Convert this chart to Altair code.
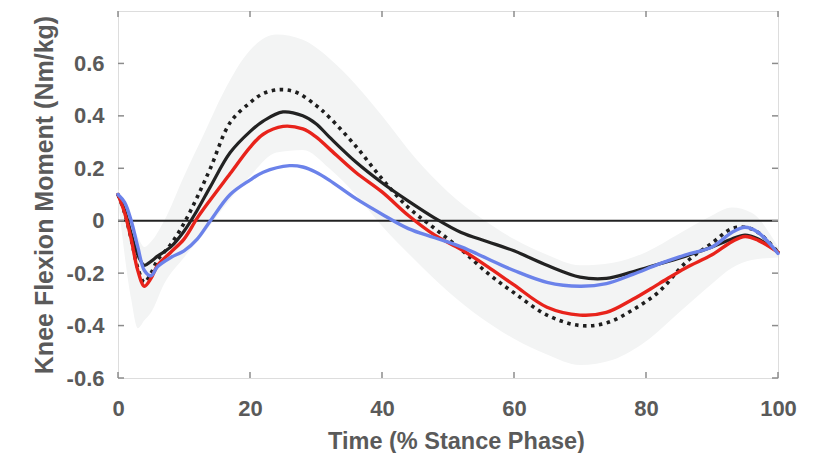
import altair as alt
import pandas as pd

# ---- data ----
x_black = [0, 1, 2, 3, 4, 5, 6, 8, 10, 12, 14, 17, 20, 22, 25, 28, 30, 32, 36, 40, 44, 48, 52, 56, 60, 65, 70, 74, 78, 82, 86, 90, 93, 95, 97, 100]
y_black = [0.10, 0.04, -0.05, -0.13, -0.17, -0.155, -0.135, -0.10, -0.04, 0.04, 0.13, 0.26, 0.34, 0.38, 0.415, 0.40, 0.37, 0.32, 0.225, 0.145, 0.075, 0.01, -0.045, -0.08, -0.115, -0.17, -0.215, -0.22, -0.195, -0.165, -0.135, -0.10, -0.07, -0.055, -0.07, -0.12]

x_dot = [0, 1, 2, 3, 4, 5, 6, 8, 10, 12, 14, 17, 20, 22, 24.5, 27, 30, 32, 36, 40, 44, 48, 52, 56, 60, 65, 70, 74, 78, 82, 86, 90, 93, 95, 97, 100]
y_dot = [0.10, 0.03, -0.07, -0.18, -0.235, -0.20, -0.15, -0.09, -0.01, 0.09, 0.20, 0.375, 0.45, 0.485, 0.50, 0.49, 0.44, 0.395, 0.285, 0.16, 0.05, -0.03, -0.11, -0.20, -0.275, -0.36, -0.40, -0.39, -0.34, -0.27, -0.16, -0.085, -0.03, -0.025, -0.045, -0.12]

x_red = [0, 1, 2, 3, 4, 5, 6, 8, 10, 12, 14, 17, 20, 22, 25, 28, 30, 32, 36, 40, 44, 48, 52, 56, 60, 65, 70, 74, 78, 82, 86, 90, 93, 95, 97, 100]
y_red = [0.10, 0.03, -0.07, -0.19, -0.25, -0.22, -0.17, -0.12, -0.07, 0.01, 0.08, 0.18, 0.28, 0.33, 0.36, 0.35, 0.32, 0.275, 0.185, 0.11, 0.02, -0.055, -0.11, -0.175, -0.245, -0.33, -0.36, -0.35, -0.30, -0.24, -0.18, -0.13, -0.08, -0.06, -0.075, -0.12]

x_blue = [0, 1, 2, 3, 4, 5, 6, 8, 10, 12, 14, 17, 20, 22, 26, 28, 30, 32, 36, 40, 44, 48, 52, 56, 60, 65, 70, 74, 78, 82, 86, 90, 93, 95, 97, 100]
y_blue = [0.10, 0.07, 0.0, -0.10, -0.19, -0.21, -0.175, -0.14, -0.115, -0.07, 0.0, 0.10, 0.155, 0.185, 0.21, 0.205, 0.185, 0.155, 0.085, 0.025, -0.03, -0.065, -0.10, -0.145, -0.19, -0.235, -0.25, -0.24, -0.205, -0.165, -0.13, -0.10, -0.045, -0.025, -0.045, -0.125]

x_band = [0, 2, 3, 4, 5, 7, 10, 13, 16, 20, 24, 28, 32, 36, 40, 45, 50, 55, 60, 65, 70, 75, 80, 85, 90, 93, 96, 100]
band_hi = [0.12, 0.0, -0.06, -0.10, -0.08, 0.0, 0.17, 0.33, 0.49, 0.65, 0.71, 0.69, 0.62, 0.52, 0.40, 0.24, 0.11, 0.01, -0.07, -0.13, -0.17, -0.16, -0.12, -0.05, 0.02, 0.05, 0.03, -0.10]
band_lo = [0.08, -0.30, -0.41, -0.38, -0.35, -0.24, -0.14, -0.05, 0.05, 0.17, 0.26, 0.27, 0.20, 0.10, -0.02, -0.15, -0.27, -0.37, -0.45, -0.51, -0.55, -0.53, -0.46, -0.35, -0.24, -0.18, -0.15, -0.14]

x_ticks = [0, 20, 40, 60, 80, 100]
y_ticks = [-0.6, -0.4, -0.2, 0, 0.2, 0.4, 0.6]

W, H = 660, 367
FONT = "Liberation Sans"
TXT = "#5a5a5a"
BOX = "#8c8c8c"
INTERP = "catmull-rom"

xs = alt.Scale(domain=[0, 100], nice=False, zero=False)
ys = alt.Scale(domain=[-0.6, 0.8], nice=False, zero=False)

x_axis = alt.Axis(
    values=x_ticks, title="Time (% Stance Phase)", grid=False, ticks=False, tickSize=0,
    domain=False, labelFont=FONT, labelFontSize=22, labelFontWeight="bold", labelColor=TXT,
    labelPadding=30, labelBaseline="middle", titleFont=FONT, titleFontSize=23.5,
    titleFontWeight="bold", titleColor=TXT, titleX=338, titleY=63, titleBaseline="middle",
    titleAlign="center", labelFlush=False,
)
y_axis = alt.Axis(
    values=y_ticks, title="Knee Flexion Moment (Nm/kg)", grid=False, ticks=False, tickSize=0,
    domain=False, labelFont=FONT, labelFontSize=22, labelFontWeight="bold", labelColor=TXT,
    labelPadding=14, labelFlush=False,
    labelExpr="datum.value == 0 ? '0' : (datum.value < 0 ? '-' + format(-datum.value, '.1f') : format(datum.value, '.1f'))",
    titleFont=FONT, titleFontSize=25, titleFontWeight="bold", titleColor=TXT,
    titleAngle=270, titleX=-74, titleY=H / 2, titleBaseline="middle", titleAlign="center",
)

band_df = pd.DataFrame({"x": x_band, "lo": band_lo, "hi": band_hi})
band = alt.Chart(band_df).mark_area(color="#f3f4f4", interpolate="monotone").encode(
    x=alt.X("x:Q", scale=xs, axis=x_axis),
    y=alt.Y("lo:Q", scale=ys, axis=y_axis),
    y2="hi:Q",
)

zero = alt.Chart(pd.DataFrame({"z": [0]})).mark_rule(color="#222222", strokeWidth=2).encode(
    y=alt.Y("z:Q", scale=ys)
)


def line(xv, yv, color, width, dash=None):
    df = pd.DataFrame({"x": xv, "y": yv})
    kw = dict(color=color, strokeWidth=width, interpolate=INTERP)
    if dash:
        kw["strokeDash"] = dash
    else:
        kw["strokeCap"] = "round"
        kw["strokeJoin"] = "round"
    return alt.Chart(df).mark_line(**kw).encode(
        x=alt.X("x:Q", scale=xs), y=alt.Y("y:Q", scale=ys)
    )


dotted = line(x_dot, y_dot, "#1e1e1e", 3.6, dash=[3.5, 4.5])
black = line(x_black, y_black, "#222222", 3.2)
red = line(x_red, y_red, "#e8231b", 3.4)
blue = line(x_blue, y_blue, "#6b82ea", 3.4)

xt_df = pd.DataFrame({"v": x_ticks})
yt_df = pd.DataFrame({"v": y_ticks})
tick_len = 6
xt_bot = alt.Chart(xt_df).mark_rule(color=BOX, strokeWidth=1.5).encode(
    x=alt.X("v:Q", scale=xs), y=alt.value(H), y2=alt.value(H - tick_len))
xt_top = alt.Chart(xt_df).mark_rule(color=BOX, strokeWidth=1.5).encode(
    x=alt.X("v:Q", scale=xs), y=alt.value(0), y2=alt.value(tick_len))
yt_left = alt.Chart(yt_df).mark_rule(color=BOX, strokeWidth=1.5).encode(
    y=alt.Y("v:Q", scale=ys), x=alt.value(0), x2=alt.value(tick_len))
yt_right = alt.Chart(yt_df).mark_rule(color=BOX, strokeWidth=1.5).encode(
    y=alt.Y("v:Q", scale=ys), x=alt.value(W), x2=alt.value(W - tick_len))

chart = alt.layer(
    band, zero, dotted, black, red, blue, xt_bot, xt_top, yt_left, yt_right
).properties(
    width=W, height=H,
    autosize=alt.AutoSizeParams(type="none"),
    padding={"left": 110, "top": 3, "right": 32, "bottom": 75},
).configure_view(
    stroke=BOX, strokeWidth=1.5
).configure(background="white")

chart.save("out.html", embed_options={"renderer": "svg", "actions": False})
